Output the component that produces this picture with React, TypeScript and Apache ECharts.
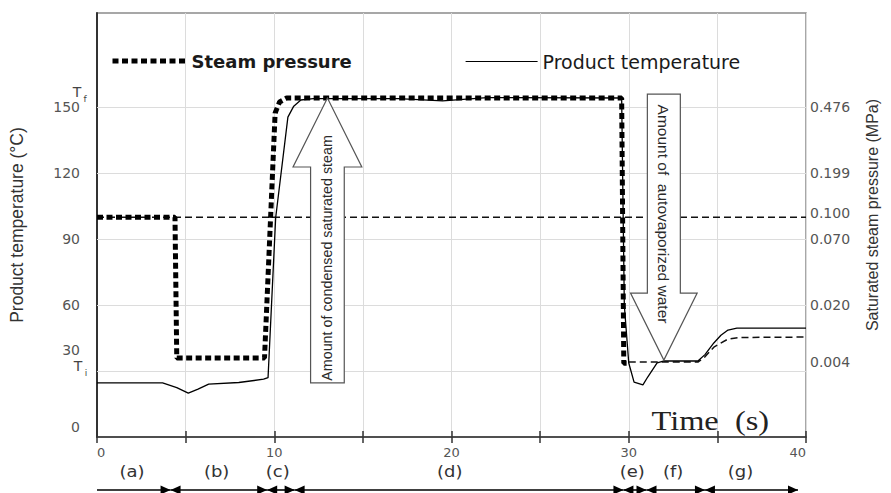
import React, { useEffect, useRef } from 'react';
import * as echarts from 'echarts';

// ---- data (time in s, temperature in °C) ----
const steamTime = [0, 4.4, 4.5, 9.45, 10.05, 10.3, 10.7, 20, 29.6, 29.72, 30.05];
const steamTemp = [100, 100, 36, 36, 147.5, 152.5, 154.3, 154.3, 154.3, 33.6, 33.6];

const productTime = [0, 3.7, 4.5, 5.15, 5.7, 6.3, 8.0, 9.4, 9.65, 10.08, 10.77, 11.1, 11.5, 12.2, 17, 19.5, 22, 29.6, 29.75, 30.0, 30.3, 30.8, 31.07, 31.6, 32.0, 33.9, 34.3, 34.8, 35.2, 35.6, 36.1, 40];
const productTemp = [24.6, 24.6, 22.5, 20, 21.8, 24.1, 24.8, 26.3, 27, 99.8, 145.6, 150.6, 153.4, 154.0, 154.0, 153.0, 154.5, 154.3, 60, 33.7, 25, 23.7, 27.3, 33.7, 34.6, 34.6, 37.5, 42.8, 46.3, 48.7, 49.6, 49.6];

const flashTime = [30.0, 33.9, 34.3, 34.8, 35.6, 36.3, 40];
const flashTemp = [34.1, 34.1, 36.5, 40.9, 44.6, 45.3, 45.5];

const atmTime = [0, 40];
const atmTemp = [100, 100];

const tempTicks = [0, 30, 60, 90, 120, 150];
const gridTemps = [30, 60, 90, 120, 150];
const pressureTemps = [30, 60, 90, 100, 120, 150];
const pressureLabels = ['0.004', '0.020', '0.070', '0.100', '0.199', '0.476'];

const phaseNames = ['(a)', '(b)', '(c)', '(d)', '(e)', '(f)', '(g)'];
const phaseBounds = [0, 4.15, 9.6, 11.15, 29.7, 31.0, 34.3, 39.55];
const phaseLabelTime = [1.97, 6.75, 10.2, 19.9, 30.2, 32.5, 36.3];

// annotation arrows (data units)
const upArrow = { x: 13.0, tail: 24.6, neck: 122.9, tip: 154.3, shaftHalf: 0.95, headHalf: 1.94, labelY: 81.5 };
const downArrow = { x: 31.98, tail: 156.1, neck: 65.5, tip: 35.0, shaftHalf: 0.93, headHalf: 1.88, labelY: 101.5 };
const upArrowText = 'Amount of condensed saturated steam';
const downArrowText = 'Amount of  autovaporized water';

const zip = (a: number[], b: number[]) => a.map((v, i) => [v, b[i]]);

export default function App() {
  const ref = useRef<HTMLDivElement>(null);
  useEffect(() => {
    const chart = echarts.init(ref.current!, null, { renderer: 'svg' });
    const labelFont = { fontFamily: 'DejaVu Sans', fontSize: 14, color: '#555' };
    const option: any = {
      animation: false,
      backgroundColor: '#fff',
      grid: { left: 93, right: 85, top: 13, bottom: 56, show: true, borderColor: '#8a8a8a', borderWidth: 1.5 },
      legend: [
        {
          left: 105, top: 47, itemWidth: 74, itemHeight: 12, data: ['Steam pressure'],
          textStyle: { fontFamily: 'DejaVu Sans', fontWeight: 'bold', fontSize: 18, color: '#1a1a1a' },
          lineStyle: { color: '#000', width: 5, type: [6, 3.5] }, itemStyle: { opacity: 0 },
        },
        {
          left: 460, top: 47, itemWidth: 72, itemHeight: 12, data: ['Product temperature'],
          textStyle: { fontFamily: 'DejaVu Sans', fontSize: 19, color: '#1a1a1a' },
          lineStyle: { color: '#000', width: 1.2, type: 'solid' }, itemStyle: { opacity: 0 },
        },
      ],
      xAxis: [
        {
          type: 'value', min: 0, max: 40, interval: 5,
          axisLine: { lineStyle: { color: '#333', width: 1.5 } },
          axisTick: { length: 6, lineStyle: { color: '#333', width: 1.5 } },
          axisLabel: {
            formatter: (v: number) => (v % 10 === 0 ? String(v) : ''),
            margin: 9, fontFamily: 'DejaVu Sans', fontSize: 13, color: '#555',
            alignMinLabel: 'left', alignMaxLabel: 'right',
          },
          splitLine: { show: true, lineStyle: { color: '#dcdcdc', width: 1 } },
        },
        {
          type: 'value', min: 0, max: 40, interval: 5, position: 'bottom',
          axisLine: { show: false },
          axisTick: { inside: true, length: 6, lineStyle: { color: '#333', width: 1.5 } },
          axisLabel: { show: false }, splitLine: { show: false },
        },
      ],
      yAxis: [
        {
          type: 'value', min: 0, max: 193, interval: 30, position: 'left',
          name: 'Product temperature (°C)', nameLocation: 'middle', nameGap: 71, nameRotate: 90,
          nameTextStyle: { fontFamily: 'Liberation Sans', fontSize: 17.5, color: '#333' },
          axisLine: { show: true, lineStyle: { color: '#333', width: 2 } },
          axisTick: { show: false }, splitLine: { show: false },
          axisLabel: {
            margin: 17, ...labelFont,
            formatter: (v: number) => {
              if (tempTicks.indexOf(v) < 0) return '';
              if (v === 30) return '{lift30|30}';
              if (v === 0) return '{lift0|0}';
              return String(v);
            },
            rich: {
              lift30: { ...labelFont, padding: [0, 0, 42, 0] },
              lift0: { ...labelFont, padding: [0, 0, 20, 0] },
            },
          },
        },
        {
          type: 'value', min: 0, max: 193, interval: 10, position: 'right',
          name: 'Saturated steam pressure (MPa)', nameLocation: 'middle', nameGap: 58, nameRotate: 90,
          nameTextStyle: { fontFamily: 'Liberation Sans', fontSize: 16, color: '#333', padding: [0, 0, 0, 20] },
          axisLine: { show: false }, axisTick: { show: false }, splitLine: { show: false },
          axisLabel: {
            margin: 4, ...labelFont,
            formatter: (v: number) => {
              const i = pressureTemps.indexOf(v);
              if (i < 0) return '';
              if (v === 30) return '{lift30|' + pressureLabels[i] + '}';
              if (v === 100) return '{lift100|' + pressureLabels[i] + '}';
              return pressureLabels[i];
            },
            rich: {
              lift30: { ...labelFont, padding: [0, 0, 18, 0] },
              lift100: { ...labelFont, padding: [0, 0, 8, 0] },
            },
          },
        },
      ],
      series: [
        {
          name: 'Atmospheric', type: 'line', xAxisIndex: 0, yAxisIndex: 0,
          data: zip(atmTime, atmTemp), symbol: 'none', silent: true, z: 2,
          lineStyle: { color: '#111', width: 1.5, type: [7, 4] },
          markLine: {
            silent: true, symbol: 'none', z: 1, label: { show: false },
            lineStyle: { color: '#dcdcdc', width: 1, type: 'solid' },
            data: gridTemps.map((v) => ({ yAxis: v })),
          },
        },
        {
          name: 'Flash', type: 'line', xAxisIndex: 0, yAxisIndex: 0,
          data: zip(flashTime, flashTemp), symbol: 'none', silent: true, z: 3,
          lineStyle: { color: '#111', width: 1.5, type: [7, 4] },
        },
        {
          name: 'Steam pressure', type: 'line', xAxisIndex: 0, yAxisIndex: 0,
          data: zip(steamTime, steamTemp), symbol: 'none', z: 3,
          lineStyle: { color: '#000', width: 5, type: [6, 3.5], cap: 'butt' },
        },
        {
          name: 'Product temperature', type: 'line', xAxisIndex: 0, yAxisIndex: 0,
          data: zip(productTime, productTemp), symbol: 'none', z: 4,
          lineStyle: { color: '#000', width: 1.3 },
        },
      ],
    };
    chart.setOption(option);

    const toPx = (x: number, y: number) =>
      chart.convertToPixel({ xAxisIndex: 0, yAxisIndex: 0 }, [x, y]) as number[];

    const arrowPoints = (a: typeof upArrow) =>
      [
        [a.x - a.shaftHalf, a.tail], [a.x - a.shaftHalf, a.neck], [a.x - a.headHalf, a.neck],
        [a.x, a.tip], [a.x + a.headHalf, a.neck], [a.x + a.shaftHalf, a.neck], [a.x + a.shaftHalf, a.tail],
      ].map((p) => toPx(p[0], p[1]));

    const txt = (text: string, x: number, y: number, extra: any = {}, el: any = {}) => ({
      type: 'text', x, y, z: 120, ...el,
      style: {
        text, fill: '#222', align: 'center', verticalAlign: 'middle',
        textAlign: 'center', textVerticalAlign: 'middle', ...extra,
      },
    });

    const g: any[] = [];
    // big hollow arrows
    g.push({ type: 'polygon', z: 100, shape: { points: arrowPoints(upArrow) }, style: { fill: '#fff', stroke: '#555', lineWidth: 1.2 } });
    g.push({ type: 'polygon', z: 100, shape: { points: arrowPoints(downArrow as any) }, style: { fill: '#fff', stroke: '#555', lineWidth: 1.2 } });
    const l1 = toPx(upArrow.x, upArrow.labelY);
    g.push(txt(upArrowText, l1[0], l1[1], { fontFamily: 'Liberation Sans', fontSize: 14.3, fill: '#2a2a2a' }, { rotation: Math.PI / 2 }));
    const l2 = toPx(downArrow.x, downArrow.labelY);
    g.push(txt(downArrowText, l2[0], l2[1], { fontFamily: 'Liberation Sans', fontSize: 15.5, fill: '#2a2a2a' }, { rotation: -Math.PI / 2 }));

    // Time (s)
    const tp = toPx(34.6, 7.3);
    g.push(txt('Time  (s)', tp[0], tp[1], { fontFamily: 'Liberation Serif', fontSize: 27, fill: '#222' }, { scaleX: 1.2 }));

    // Tf / Ti
    const p150 = toPx(0, 150);
    const p30 = toPx(0, 30);
    g.push(txt('T', p150[0] - 20, p150[1] - 15, { fontFamily: 'DejaVu Sans', fontSize: 14, fill: '#444' }));
    g.push(txt('f', p150[0] - 12, p150[1] - 8, { fontFamily: 'DejaVu Sans', fontSize: 9, fill: '#444' }));
    g.push(txt('T', p30[0] - 19, p30[1] - 5, { fontFamily: 'DejaVu Sans', fontSize: 14, fill: '#444' }));
    g.push(txt('i', p30[0] - 11, p30[1] + 2, { fontFamily: 'DejaVu Sans', fontSize: 9, fill: '#444' }));

    // phase arrows under the axis
    const axisY = toPx(0, 0)[1];
    const ay = axisY + 53;
    const ly = axisY + 35;
    const head = 10, hh = 4.5;
    for (let i = 0; i < phaseNames.length; i++) {
      const xs = toPx(phaseBounds[i], 0)[0];
      const xe = toPx(phaseBounds[i + 1], 0)[0];
      g.push({ type: 'line', z: 100, shape: { x1: xs, y1: ay, x2: xe, y2: ay }, style: { stroke: '#000', lineWidth: 1.6 } });
      g.push({ type: 'polygon', z: 101, shape: { points: [[xe, ay], [xe - head, ay - hh], [xe - head, ay + hh]] }, style: { fill: '#000' } });
      if (i > 0) {
        g.push({ type: 'polygon', z: 101, shape: { points: [[xs, ay], [xs + head, ay - hh], [xs + head, ay + hh]] }, style: { fill: '#000' } });
      }
      const lx = toPx(phaseLabelTime[i], 0)[0];
      g.push(txt(phaseNames[i], lx, ly, { fontFamily: 'DejaVu Sans', fontSize: 15, fill: '#333' }, { scaleX: 1.2 }));
    }
    chart.setOption({ graphic: g });

    return () => chart.dispose();
  }, []);
  return <div ref={ref} style={{ position: 'fixed', left: 0, top: 0, width: 891, height: 493, background: '#fff' }} />;
}
